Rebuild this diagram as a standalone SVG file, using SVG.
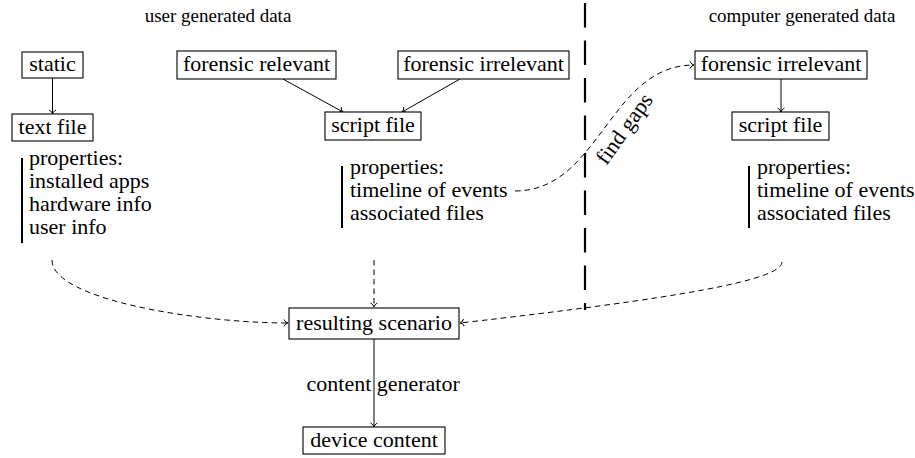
<svg xmlns="http://www.w3.org/2000/svg" width="915" height="458" viewBox="0 0 915 458" font-family="'Liberation Serif', 'DejaVu Serif', serif">
<style>
text{font-family:'Liberation Serif','DejaVu Serif',serif;fill:#000}
.t{font-size:22px}
.h{font-size:19px;text-anchor:middle}
.c{text-anchor:middle}
rect{fill:#fff;stroke:#000;stroke-width:1.1}
.bar{stroke:#000;stroke-width:2}
.ln{fill:none;stroke:#000;stroke-width:1}
.dl{fill:none;stroke:#000;stroke-width:1;stroke-dasharray:5.5 4}
</style>
<defs>
<marker id="to" markerUnits="userSpaceOnUse" markerWidth="12" markerHeight="12" viewBox="-6 -6 12 12" refX="0" refY="0" orient="auto">
<path d="M-4,-3.5 C-3,-1.4 -1.2,-0.3 0,0 C-1.2,0.3 -3,1.4 -4,3.5" fill="none" stroke="#000" stroke-width="1" stroke-dasharray="none"/>
</marker>
</defs>
<g id="headers">
<text class="h" x="218" y="22">user generated data</text>
<text class="h" x="802" y="22">computer generated data</text>
</g>
<line x1="585" y1="3" x2="585" y2="310" stroke="#000" stroke-width="2.2" stroke-dasharray="24.5 13"/>
<g id="connectors">
<line class="ln" x1="52.5" y1="78" x2="52.5" y2="114" marker-end="url(#to)"/>
<line class="ln" x1="283" y1="79" x2="343" y2="112" marker-end="url(#to)"/>
<line class="ln" x1="460" y1="79" x2="402" y2="112" marker-end="url(#to)"/>
<line class="ln" x1="781" y1="79" x2="781" y2="112" marker-end="url(#to)"/>
<path class="dl" d="M515,191 C600,191 609,65 694,65" marker-end="url(#to)"/>
<text class="t c" transform="translate(630,133) rotate(-54.5)">find gaps</text>
<path class="dl" d="M52,260 C52,300 200,323 288,323" marker-end="url(#to)"/>
<line class="dl" x1="374" y1="260" x2="374" y2="307" marker-end="url(#to)"/>
<path class="dl" d="M782,262 C782,280 680,298 460,323" marker-end="url(#to)"/>
<line class="ln" x1="374" y1="339" x2="374" y2="427" marker-end="url(#to)"/>
<text class="t" x="306.5" y="391">content generator</text>
</g>
<g id="static"><rect x="22" y="52" width="61" height="26"/><text class="t c" x="52.5" y="70.5">static</text></g>
<g id="text-file"><rect x="12" y="114" width="81" height="27"/><text class="t c" x="52.5" y="133.5">text file</text></g>
<g id="text-props">
<line class="bar" x1="22" y1="158" x2="22" y2="243"/>
<text class="t" x="29" y="165">properties:</text>
<text class="t" x="29" y="188">installed apps</text>
<text class="t" x="29" y="211">hardware info</text>
<text class="t" x="29" y="234">user info</text>
</g>
<g id="forensic-relevant"><rect x="177" y="51" width="159" height="28"/><text class="t c" x="256.5" y="70.5">forensic relevant</text></g>
<g id="forensic-irrelevant-user"><rect x="398" y="51" width="171" height="28"/><text class="t c" x="483.5" y="70.5">forensic irrelevant</text></g>
<g id="script-file-user"><rect x="325" y="112" width="96" height="28"/><text class="t c" x="373" y="131.5">script file</text></g>
<g id="script-props-user">
<line class="bar" x1="342" y1="166" x2="342" y2="228"/>
<text class="t" x="350" y="174">properties:</text>
<text class="t" x="350" y="197">timeline of events</text>
<text class="t" x="350" y="220">associated files</text>
</g>
<g id="forensic-irrelevant-computer"><rect x="695" y="51" width="172" height="28"/><text class="t c" x="781" y="70.5">forensic irrelevant</text></g>
<g id="script-file-computer"><rect x="732" y="112" width="97" height="28"/><text class="t c" x="780.5" y="131.5">script file</text></g>
<g id="script-props-computer">
<line class="bar" x1="749" y1="166" x2="749" y2="228"/>
<text class="t" x="757" y="174">properties:</text>
<text class="t" x="757" y="197">timeline of events</text>
<text class="t" x="757" y="220">associated files</text>
</g>
<g id="resulting-scenario"><rect x="289" y="308" width="170" height="31"/><text class="t c" x="374" y="329.5">resulting scenario</text></g>
<g id="device-content"><rect x="303" y="427" width="142" height="27"/><text class="t c" x="374" y="446.5">device content</text></g>
</svg>
